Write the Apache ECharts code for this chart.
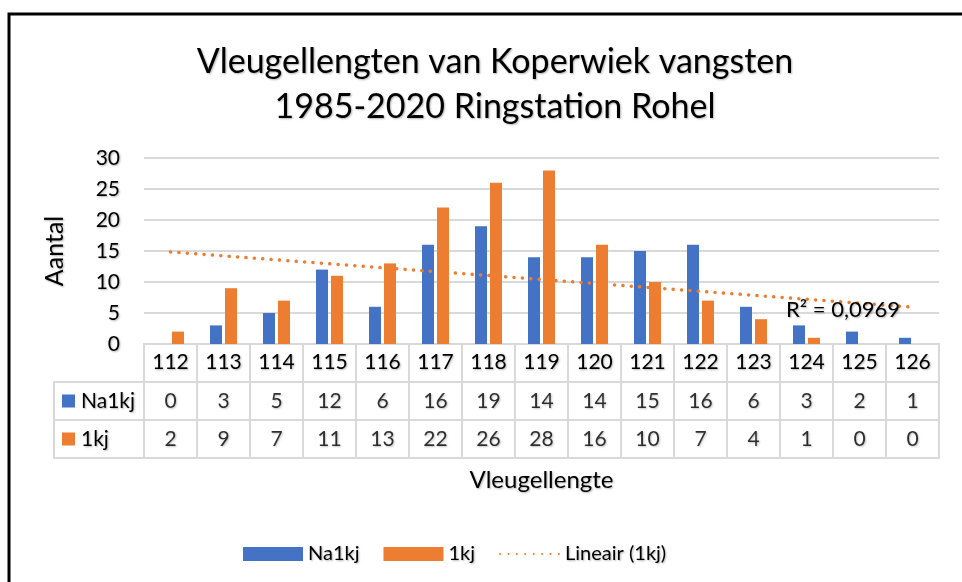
<!DOCTYPE html>
<html>
<head>
<meta charset="utf-8">
<title>Vleugellengten Koperwiek</title>
<script src="https://cdn.jsdelivr.net/npm/echarts@6/dist/echarts.min.js"></script>
<style>
html, body { margin: 0; height: 100%; background: #fff; }
#main { width: 962px; height: 582px; }
</style>
</head>
<body>
<div id="main"></div>
<script>
// data
var lengtes = ['112','113','114','115','116','117','118','119','120','121','122','123','124','125','126'];
var na1kj = [0, 3, 5, 12, 6, 16, 19, 14, 14, 15, 16, 6, 3, 2, 1];
var eenkj = [2, 9, 7, 11, 13, 22, 26, 28, 16, 10, 7, 4, 1, 0, 0];
var rijen = ['1kj', 'Na1kj', ''];
var r2tekst = 'R\u00b2 = 0,0969';

var blauw = '#4472C4', oranje = '#ED7D31', lijn = '#d9d9d9';
var font = 'Lato';
var schaduw = { textShadowColor: 'rgba(0,0,0,0.3)', textShadowBlur: 2, textShadowOffsetX: 1, textShadowOffsetY: 1 };

// lineaire trendlijn (kleinste kwadraten) over 1kj
function trend(ys) {
    var n = ys.length, sx = 0, sy = 0, sxy = 0, sxx = 0;
    for (var i = 0; i < n; i++) {
        var x = i + 1;
        sx += x; sy += ys[i]; sxy += x * ys[i]; sxx += x * x;
    }
    var b = (n * sxy - sx * sy) / (n * sxx - sx * sx);
    var a = (sy - b * sx) / n;
    return ys.map(function (y, i) { return +(a + b * (i + 1)).toFixed(3); });
}

// tabelcellen
var cellen = [];
lengtes.forEach(function (l, i) {
    cellen.push([l, 'Na1kj', na1kj[i]]);
    cellen.push([l, '1kj', eenkj[i]]);
});

var myChart = echarts.init(document.getElementById('main'));

myChart.setOption({
    animation: false,
    textStyle: { fontFamily: font, color: '#000' },
    title: {
        text: 'Vleugellengten van Koperwiek vangsten\n1985-2020 Ringstation Rohel',
        left: 490,
        textAlign: 'center',
        top: 35,
        textStyle: Object.assign({ fontSize: 34, lineHeight: 45, fontWeight: 'normal', color: '#000', fontFamily: font }, schaduw)
    },
    legend: {
        left: 238,
        top: 539,
        itemWidth: 60,
        itemHeight: 14,
        itemGap: 24,
        data: [
            { name: 'Na1kj', icon: 'rect' },
            { name: '1kj', icon: 'rect' },
            { name: 'Lineair (1kj)', itemStyle: { opacity: 0 } }
        ],
        textStyle: Object.assign({ fontSize: 20, color: '#000', fontFamily: font }, schaduw)
    },
    graphic: [
        {
            type: 'rect',
            shape: { x: 9, y: 14, width: 1000, height: 1000 },
            style: { fill: null, stroke: '#000', lineWidth: 3 },
            z: 100
        },
        {
            type: 'text',
            left: 786,
            top: 299,
            z: 100,
            style: Object.assign({ text: r2tekst, fontSize: 22, fill: '#000', fontFamily: font }, schaduw)
        }
    ],
    grid: [
        { left: 144, right: 23, top: 158, height: 186 },
        { left: 144, right: 23, top: 344, height: 114, show: true, borderColor: lijn, borderWidth: 2 },
        { left: 54, width: 90, top: 382, height: 76, show: true, borderColor: lijn, borderWidth: 2 }
    ],
    xAxis: [
        {
            type: 'category', gridIndex: 0, data: lengtes,
            axisLine: { lineStyle: { color: lijn, width: 2 } },
            axisTick: { show: false },
            axisLabel: Object.assign({ fontSize: 21, color: '#000', margin: 8, interval: 0 }, schaduw)
        },
        {
            type: 'category', gridIndex: 1, data: lengtes,
            axisLine: { show: false }, axisTick: { show: false }, axisLabel: { show: false },
            splitLine: { show: true, interval: 0, lineStyle: { color: lijn, width: 2 } },
            name: 'Vleugellengte', nameLocation: 'middle', nameGap: 10,
            nameTextStyle: Object.assign({ fontSize: 24, color: '#000', fontFamily: font, verticalAlign: 'top' }, schaduw)
        },
        { type: 'value', gridIndex: 2, show: false }
    ],
    yAxis: [
        {
            type: 'value', gridIndex: 0, min: 0, max: 30, interval: 5,
            axisLine: { show: false }, axisTick: { show: false },
            axisLabel: Object.assign({ fontSize: 21, color: '#000', margin: 24 }, schaduw),
            splitLine: { lineStyle: { color: lijn, width: 2 } },
            name: 'Aantal', nameLocation: 'middle', nameGap: 77, nameRotate: 90,
            nameTextStyle: Object.assign({ fontSize: 25, color: '#000', fontFamily: font }, schaduw)
        },
        {
            type: 'category', gridIndex: 1, data: rijen,
            axisLine: { show: false }, axisTick: { show: false }, axisLabel: { show: false },
            splitLine: { show: true, interval: 0, lineStyle: { color: lijn, width: 2 } }
        },
        {
            type: 'category', gridIndex: 2, data: ['1kj', 'Na1kj'],
            axisLine: { show: false }, axisTick: { show: false },
            splitLine: { show: true, interval: 0, lineStyle: { color: lijn, width: 2 } },
            axisLabel: {
                inside: true, margin: 8, align: 'left',
                formatter: function (v) { return (v === 'Na1kj' ? '{b|}' : '{o|}') + '{t|' + v + '}'; },
                rich: {
                    b: { backgroundColor: blauw, width: 13, height: 13 },
                    o: { backgroundColor: oranje, width: 13, height: 13 },
                    t: Object.assign({ fontSize: 21, color: '#000', fontFamily: font, padding: [0, 0, 0, 6] }, schaduw)
                }
            }
        }
    ],
    series: [
        {
            name: 'Na1kj', type: 'bar', data: na1kj,
            barWidth: 12, barGap: '25%',
            itemStyle: { color: blauw }
        },
        {
            name: '1kj', type: 'bar', data: eenkj,
            barWidth: 12, barGap: '25%',
            itemStyle: { color: oranje }
        },
        {
            name: 'Lineair (1kj)', type: 'line', data: trend(eenkj),
            symbol: 'none', z: 5,
            lineStyle: { color: oranje, width: 3.5, type: [0.1, 8.3], cap: 'round' },
            itemStyle: { color: oranje }
        },
        {
            type: 'scatter', xAxisIndex: 1, yAxisIndex: 1, data: cellen,
            symbol: 'rect', symbolSize: 1,
            itemStyle: { color: 'rgba(0,0,0,0)' },
            label: Object.assign({
                show: true, position: 'inside', fontSize: 21, color: '#000', fontFamily: font,
                formatter: function (p) { return p.value[2]; }
            }, schaduw),
            silent: true
        }
    ]
});
</script>
</body>
</html>
